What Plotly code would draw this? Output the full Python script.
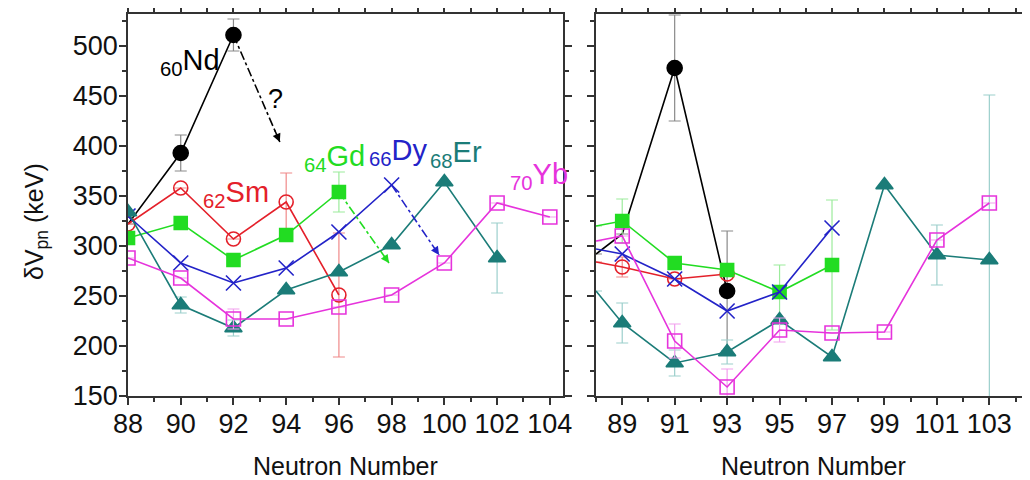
import plotly.graph_objects as go

# ---------------- data: left panel (even N) ----------------
nd_l_x = [88, 90, 92]
nd_l_y = [322, 393, 511]
nd_l_err = [0, 18, 16]

sm_l_x = [88, 90, 92, 94, 96]
sm_l_y = [322, 358, 307, 344, 251]
sm_l_err = [0, 0, 0, 29, 62]

gd_l_x = [88, 90, 92, 94, 96]
gd_l_y = [308, 323, 286, 311, 354]
gd_l_err = [0, 0, 0, 0, 20]

dy_l_x = [88, 90, 92, 94, 96, 98]
dy_l_y = [330, 283, 263, 278, 314, 361]

er_l_x = [88, 90, 92, 94, 96, 98, 100, 102]
er_l_y = [334, 241, 218, 256, 274, 301, 364, 288]
er_l_err = [0, 8, 8, 0, 0, 0, 0, 35]

yb_l_x = [88, 90, 92, 94, 96, 98, 100, 102, 104]
yb_l_y = [288, 268, 227, 227, 239, 251, 283, 343, 329]
yb_l_err = [0, 0, 10, 0, 0, 0, 0, 0, 0]

# extrapolation arrows (start N, start value, end N, end value)
arrow_nd = [92, 511, 93.76, 404]
arrow_gd = [96, 354, 97.9, 283]
arrow_dy = [98, 361, 99.8, 291]

# ---------------- data: right panel (odd N) ----------------
nd_r_x = [88, 89, 91, 93]
nd_r_y = [292, 312, 478, 255]
nd_r_err = [0, 0, 53, 60]

sm_r_x = [88, 89, 91, 93]
sm_r_y = [284, 279, 267, 272]
sm_r_err = [0, 10, 0, 0]

gd_r_x = [88, 89, 91, 93, 95, 97]
gd_r_y = [320, 325, 283, 276, 254, 281]
gd_r_err = [0, 22, 0, 0, 27, 65]

dy_r_x = [88, 89, 91, 93, 95, 97]
dy_r_y = [297, 292, 267, 235, 254, 318]

er_r_x = [88, 89, 91, 93, 95, 97, 99, 101, 103]
er_r_y = [255, 223, 183, 194, 226, 189, 361, 291, 286]
er_r_err = [0, 20, 13, 12, 0, 0, 0, 30, 165]

yb_r_x = [88, 89, 91, 93, 95, 97, 99, 101, 103]
yb_r_y = [305, 310, 205, 159, 216, 213, 214, 306, 343]
yb_r_err = [0, 0, 17, 18, 12, 0, 0, 0, 0]

# ---------------- styles ----------------
C = dict(Nd="#000000", Sm="#e4202a", Gd="#22dc22", Dy="#2323c8", Er="#1b7c78", Yb="#e633dc")
CE = dict(Nd="#8a8a8a", Sm="#f08a8a", Gd="#9ceb9c", Dy="#9a9ae6", Er="#9ccfcc", Yb="#f2a0ee")
SYM = dict(Nd="circle", Sm="circle-open", Gd="square", Dy="x-thin-open", Er="triangle-up", Yb="square-open")
SIZE = dict(Nd=15, Sm=14, Gd=13, Dy=15, Er=15, Yb=14)

FONT = "Liberation Sans, Arial, Helvetica, sans-serif"
W, H = 1030, 480
OFF = 8  # page body margin offset (px)


def px_x(v):
    return (v - OFF) / W


def px_y(v):
    return 1 - (v - OFF) / H


fig = go.Figure()


def add_series(name, xs, ys, err, xa, ya, hide=0):
    sizes = [SIZE[name]] * len(xs)
    for i in range(hide):
        sizes[i] = 0
    tr = dict(
        x=xs, y=ys, mode="lines+markers", xaxis=xa, yaxis=ya, showlegend=False,
        line=dict(color=C[name], width=1.6),
        marker=dict(symbol=SYM[name], size=sizes, color=C[name], opacity=1,
                    line=dict(color=C[name], width=1.6)),
    )
    if err is not None:
        tr["error_y"] = dict(type="data", array=err, visible=True,
                             color=CE[name], thickness=1.2, width=6)
    fig.add_trace(go.Scatter(**tr))


# left panel
add_series("Nd", nd_l_x, nd_l_y, nd_l_err, "x", "y", hide=1)
add_series("Sm", sm_l_x, sm_l_y, sm_l_err, "x", "y")
add_series("Gd", gd_l_x, gd_l_y, gd_l_err, "x", "y")
add_series("Dy", dy_l_x, dy_l_y, None, "x", "y")
add_series("Er", er_l_x, er_l_y, er_l_err, "x", "y")
add_series("Yb", yb_l_x, yb_l_y, yb_l_err, "x", "y")

# right panel
add_series("Nd", nd_r_x, nd_r_y, nd_r_err, "x2", "y2", hide=2)
add_series("Sm", sm_r_x, sm_r_y, sm_r_err, "x2", "y2", hide=1)
add_series("Gd", gd_r_x, gd_r_y, gd_r_err, "x2", "y2", hide=1)
add_series("Dy", dy_r_x, dy_r_y, None, "x2", "y2", hide=1)
add_series("Er", er_r_x, er_r_y, er_r_err, "x2", "y2", hide=1)
add_series("Yb", yb_r_x, yb_r_y, yb_r_err, "x2", "y2", hide=1)

# dash-dot extrapolation arrows
annotations = []
for name, arr in (("Nd", arrow_nd), ("Gd", arrow_gd), ("Dy", arrow_dy)):
    x0, y0, x1, y1 = arr
    fig.add_trace(go.Scatter(x=[x0, x1], y=[y0, y1], mode="lines", xaxis="x", yaxis="y",
                             showlegend=False, line=dict(color=C[name], width=1.6, dash="dashdot")))
    annotations.append(dict(
        x=x1, y=y1, xref="x", yref="y", axref="x", ayref="y",
        ax=x1 - 0.12 * (x1 - x0), ay=y1 - 0.12 * (y1 - y0),
        text="", showarrow=True, arrowhead=2, arrowsize=1.1, arrowwidth=1.5,
        arrowcolor=C[name]))

annotations.append(dict(x=93.6, y=447, xref="x", yref="y", text="?", showarrow=False,
                        font=dict(size=27, color="#000", family=FONT)))

# element labels
labels = [
    ("60", "Nd", 90.35, 484),
    ("62", "Sm", 92.1, 352),
    ("64", "Gd", 95.85, 388),
    ("66", "Dy", 98.25, 394),
    ("68", "Er", 100.45, 392),
    ("70", "Yb", 103.6, 370),
]
for z, el, lx, ly in labels:
    annotations.append(dict(x=lx, y=ly, xref="x", yref="y", showarrow=False,
                            xanchor="center", yanchor="middle",
                            text="<sub>%s</sub>%s" % (z, el),
                            font=dict(size=29, color=C[el], family=FONT)))

# axis titles
annotations.append(dict(x=px_x(36), y=px_y(222), xref="paper", yref="paper", showarrow=False,
                        xanchor="center", yanchor="middle",
                        text="δV<sub>pn</sub> (keV)", textangle=-90,
                        font=dict(size=25, color="#111", family=FONT)))
annotations.append(dict(x=px_x(345), y=px_y(466), xref="paper", yref="paper", showarrow=False,
                        xanchor="center", yanchor="middle",
                        text="Neutron Number", font=dict(size=25, color="#111", family=FONT)))
annotations.append(dict(x=px_x(813), y=px_y(466), xref="paper", yref="paper", showarrow=False,
                        xanchor="center", yanchor="middle",
                        text="Neutron Number", font=dict(size=25, color="#111", family=FONT)))

axis_common = dict(
    showgrid=False, zeroline=False, showline=True, linecolor="#333", linewidth=1.5,
    ticks="outside", ticklen=7, tickwidth=1.5, tickcolor="#333", automargin=False,
    tickfont=dict(size=27, color="#111", family=FONT), ticklabelstandoff=-4,
)
minor_x = dict(dtick=1, tick0=88, ticks="outside", ticklen=4, tickwidth=1.5, tickcolor="#333")
minor_y = dict(dtick=25, tick0=150, ticks="outside", ticklen=4, tickwidth=1.5, tickcolor="#333")

ydom = [px_y(396), px_y(14)]
yrange = [150, 532]

fig.update_layout(
    width=W, height=H,
    margin=dict(l=0, r=0, t=0, b=0, autoexpand=False),
    paper_bgcolor="white", plot_bgcolor="white",
    font=dict(family=FONT),
    xaxis=dict(domain=[px_x(128), px_x(563)], range=[88, 104.5], tick0=88, dtick=2,
               mirror="ticks", anchor="y", minor=minor_x, **axis_common),
    yaxis=dict(domain=ydom, range=yrange, tick0=150, dtick=50, mirror="ticks", anchor="x",
               minor=minor_y, **axis_common),
    xaxis2=dict(domain=[px_x(596), px_x(1030)], range=[88, 104.55], tick0=89, dtick=2,
                mirror="ticks", anchor="y2", minor=minor_x, **axis_common),
    yaxis2=dict(domain=ydom, range=yrange, tick0=150, dtick=50, anchor="x2", showticklabels=False,
                minor=minor_y, **axis_common),
    annotations=annotations,
)

fig.write_html("out.html")
